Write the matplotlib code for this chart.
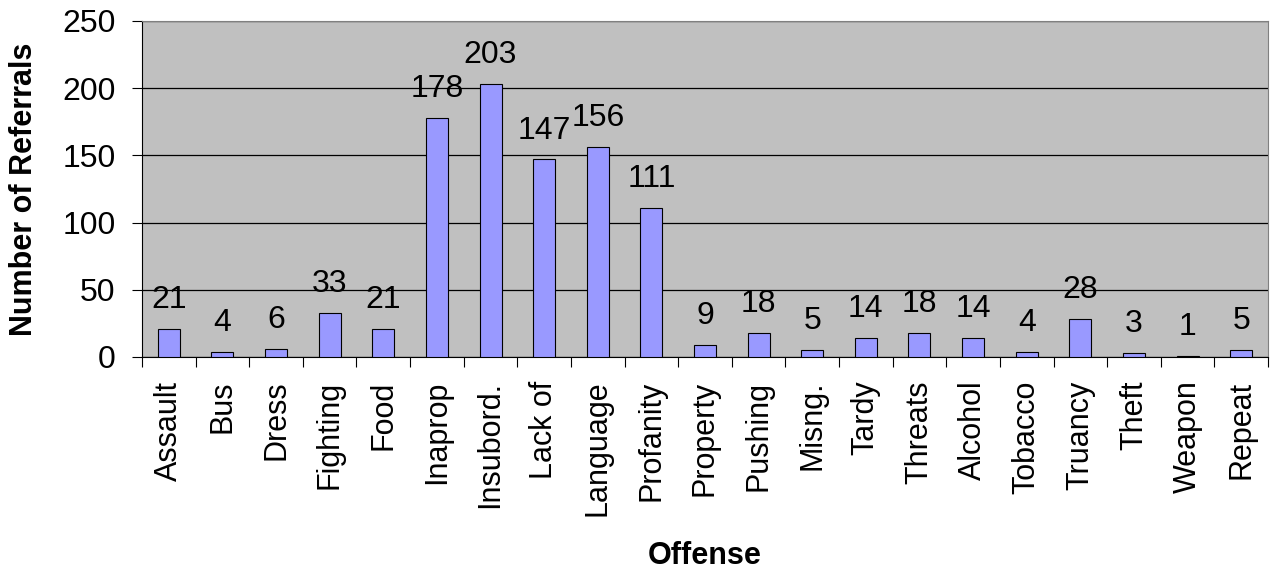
import numpy as np
import matplotlib.pyplot as plt

offenses = ["Assault", "Bus", "Dress", "Fighting", "Food", "Inaprop", "Insubord.",
            "Lack of", "Language", "Profanity", "Property", "Pushing", "Misng.",
            "Tardy", "Threats", "Alcohol", "Tobacco", "Truancy", "Theft", "Weapon", "Repeat"]
referrals = [21, 4, 6, 33, 21, 178, 203, 147, 156, 111, 9, 18, 5, 14, 18, 14, 4, 28, 3, 1, 5]

plt.rcParams['font.family'] = ['Liberation Sans', 'DejaVu Sans']

fig = plt.figure(figsize=(12.75, 5.74), dpi=100)
ax = fig.add_axes([142/1275, 1 - 357/574, (1268-142)/1275, (357-21)/574])
ax.set_facecolor('#C0C0C0')

x = np.arange(len(offenses))
ax.bar(x, referrals, width=0.41, color='#9999FF', edgecolor='black', linewidth=0.8, zorder=3)
for xi, v in zip(x, referrals):
    ax.annotate(str(v), (xi, v), xytext=(0, 10), textcoords='offset points',
                ha='center', va='bottom', fontsize=23, zorder=4)

ax.set_xlim(-0.5, len(offenses) - 0.5)
ax.set_ylim(0, 250)
ax.set_yticks(np.arange(0, 251, 50))
ax.yaxis.grid(True, color='black', linewidth=0.9, zorder=1)
ax.set_xticks(x)
ax.set_xticklabels(offenses, rotation=90, fontsize=22)
ax.set_xticks(np.arange(-0.5, len(offenses), 1), minor=True)
ax.tick_params(axis='x', which='major', length=0, pad=17)
ax.tick_params(axis='x', which='minor', length=7, width=0.8)
ax.tick_params(axis='y', labelsize=23, length=7, width=0.8, pad=12, direction='out')
for s in ['top', 'right']:
    ax.spines[s].set_color('#808080')
for s in ['left', 'bottom']:
    ax.spines[s].set_color('black')
ax.set_ylabel('Number of Referrals', fontsize=22, fontweight='bold', va='center')
ax.yaxis.set_label_coords((24 - 142) / 1126, 0.5)
ax.set_xlabel('Offense', fontsize=22, fontweight='bold', va='center')
ax.xaxis.set_label_coords(0.5, (357 - 556) / 336)

fig.savefig('out.png', dpi=100)
